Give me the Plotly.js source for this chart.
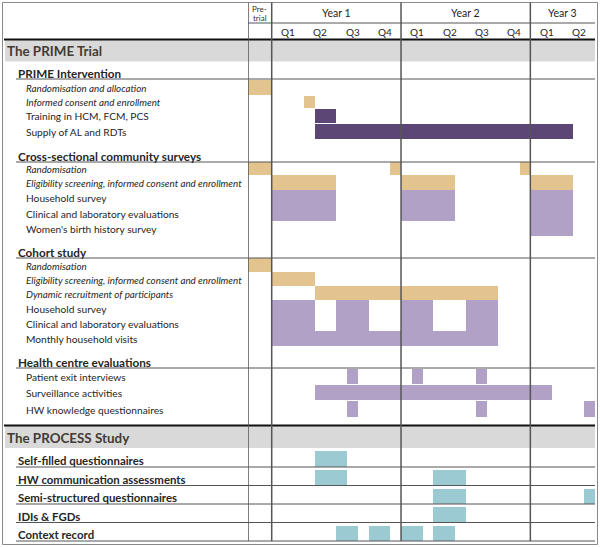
<!DOCTYPE html>
<html><head><meta charset="utf-8">
<script src="https://cdn.plot.ly/plotly-3.0.1.min.js"></script>
<style>html,body{margin:0;padding:0;background:#fff}#chart{width:600px;height:547px}</style>
</head><body><div id="chart"></div>
<script>
// ---------- DATA ----------
// time axis in months from the start of Year 1; the pre-trial period precedes month 0
const PRE = -2.2;
const yearLabels = ['Year 1', 'Year 2', 'Year 3'];
const yearStarts = [0, 12, 24];
const yearEnds   = [12, 24, 30];
const quarterLabels = ['Q1','Q2','Q3','Q4','Q1','Q2','Q3','Q4','Q1','Q2'];
const quarterStarts = [0, 3, 6, 9, 12, 15, 18, 21, 24, 27];
const preTrialLabel = ['Pre-', 'trial'];

// rows of the table (index used by tasks)
const rowLabels = [
  'The PRIME Trial',                                          // 0
  'PRIME Intervention',                                       // 1
  'Randomisation and allocation',                             // 2
  'Informed consent and enrollment',                          // 3
  'Training in HCM, FCM, PCS',                                // 4
  'Supply of AL and RDTs',                                    // 5
  'Cross-sectional community surveys',                        // 6
  'Randomisation',                                            // 7
  'Eligibility screening, informed consent and enrollment',   // 8
  'Household survey',                                         // 9
  'Clinical and laboratory evaluations',                      // 10
  "Women's birth history survey",                             // 11
  'Cohort study',                                             // 12
  'Randomisation',                                            // 13
  'Eligibility screening, informed consent and enrollment',   // 14
  'Dynamic recruitment of participants',                      // 15
  'Household survey',                                         // 16
  'Clinical and laboratory evaluations',                      // 17
  'Monthly household visits',                                 // 18
  'Health centre evaluations',                                // 19
  'Patient exit interviews',                                  // 20
  'Surveillance activities',                                  // 21
  'HW knowledge questionnaires',                              // 22
  '',                                                         // 23
  'The PROCESS Study',                                        // 24
  'Self-filled questionnaires',                               // 25
  'HW communication assessments',                             // 26
  'Semi-structured questionnaires',                           // 27
  'IDIs & FGDs',                                              // 28
  'Context record'                                            // 29
];
const rowKinds = [
  'study','section','italicP','italicP','itemP','itemP',
  'section','italic','italic','item','item','item',
  'section','italic','italic','italic','item','item','item',
  'section','hc','hc','hc','spacer',
  'study','process','process','process','process','process'
];

// activities: row index, start month, end month, type
const taskRow   = [2, 3, 4, 5,
                   7, 7, 7, 8, 8, 8, 9, 9, 9, 10, 10, 10, 11,
                   13, 14, 15, 16, 16, 16, 16, 17, 17, 17, 17, 18,
                   20, 20, 20, 21, 22, 22, 22,
                   25, 26, 26, 27, 27, 28, 29, 29, 29, 29];
const taskStart = [PRE, 3, 4, 4,
                   PRE, 11, 23, 0, 12, 24, 0, 12, 24, 0, 12, 24, 24,
                   PRE, 0, 4, 0, 6, 12, 18, 0, 6, 12, 18, 0,
                   7, 13, 19, 4, 7, 19, 29,
                   4, 4, 15, 15, 29, 15, 6, 9, 12, 15];
const taskEnd   = [0, 4, 6, 28,
                   0, 12, 24, 6, 17, 28, 6, 17, 28, 6, 17, 28, 28,
                   0, 4, 21, 4, 9, 15, 21, 4, 9, 15, 21, 21,
                   8, 14, 20, 26, 8, 20, 30,
                   7, 7, 18, 18, 30, 18, 8, 11, 14, 17];
const taskType  = ['enrol', 'enrol', 'intervention', 'intervention',
                   'enrol','enrol','enrol','enrol','enrol','enrol','data','data','data','data','data','data','data',
                   'enrol','enrol','enrol','data','data','data','data','data','data','data','data','data',
                   'data','data','data','data','data','data','data',
                   'process','process','process','process','process','process','process','process','process','process'];

// ---------- LAYOUT / STYLE ----------
const rowHeights = [21.5, 17.5, 16, 13, 15, 16, 23, 13, 14.5, 15.5, 16, 15, 22, 14, 14, 14, 15.5, 15.5, 15,
                    22, 16.5, 16, 16.5, 9, 22, 19, 18.5, 18.5, 18.5, 18.5];
const topY = 40;
const rowY0 = [], rowY1 = [];
let acc = topY;
rowHeights.forEach(h => { rowY0.push(acc); acc += h; rowY1.push(acc); });

const typeColors = {enrol: '#e3c48f', intervention: '#5c4676', data: '#b1a1c6', process: '#9ccad2'};
const FONT = 'Lato, "Open Sans", sans-serif';
const TXT = '#262626';
const X0 = 248, X1 = 595, W = 600, H = 547;
const px = v => v / W;

function barBox(r) {
  const k = rowKinds[r];
  if (k === 'process') return [rowY0[r] + 3, rowY1[r] - 0.5];
  if (k === 'hc') return [rowY0[r] + 0.6, rowY1[r] - 0.4];
  if (k === 'itemP' || k === 'italicP') return [rowY0[r] + 0.6, rowY1[r] - 0.4];
  return [rowY0[r], rowY1[r]];
}

const traces = Object.keys(typeColors).map(t => {
  const ys = [], xs = [], bs = [], ws = [];
  taskRow.forEach((r, i) => {
    if (taskType[i] !== t) return;
    const [a, b] = barBox(r);
    ys.push((a + b) / 2); ws.push(b - a);
    bs.push(taskStart[i]); xs.push(taskEnd[i] - taskStart[i]);
  });
  return {type: 'bar', orientation: 'h', y: ys, x: xs, base: bs, width: ws,
          marker: {color: typeColors[t], line: {width: 0}}, hoverinfo: 'skip', showlegend: false};
});

const shapes = [];
const annotations = [];
const line = (x0, y0, x1, y1, color, width, xref) => shapes.push({type: 'line', xref: xref || 'paper', yref: 'y',
  x0: x0, x1: x1, y0: y0, y1: y1, line: {color: color, width: width}, layer: 'above'});

// outer frame
shapes.push({type: 'rect', xref: 'paper', yref: 'paper', x0: px(2.5), x1: px(597.5), y0: 1 - 544.5 / H, y1: 1 - 2.5 / H,
             line: {color: '#8a8a8a', width: 1}, fillcolor: 'rgba(0,0,0,0)', layer: 'above'});

// rows: bands, lines, labels
rowLabels.forEach((lab, r) => {
  const k = rowKinds[r];
  if (k === 'study') {
    shapes.push({type: 'rect', xref: 'paper', yref: 'y', x0: px(5), x1: px(X1), y0: rowY0[r], y1: rowY1[r],
                 fillcolor: '#d9d9d9', line: {width: 0}, layer: 'below'});
    line(px(4), rowY0[r] - 0.5, px(X1), rowY0[r] - 0.5, '#111', 2);
    annotations.push({xref: 'paper', yref: 'y', x: px(5), y: (rowY0[r] + rowY1[r]) / 2 + 0.5, xanchor: 'left', yanchor: 'middle',
      text: '<b>' + lab + '</b>', showarrow: false, font: {family: FONT, size: 13.4, color: '#453b33'}});
  } else if (k === 'section') {
    line(px(16), rowY1[r], px(X1), rowY1[r], '#555', 1);
    annotations.push({xref: 'paper', yref: 'y', x: px(16), y: rowY1[r] - 6.5, xanchor: 'left', yanchor: 'middle',
      text: '<b>' + lab + '</b>', showarrow: false, font: {family: FONT, size: 11.7, color: TXT}});
  } else if (k === 'process') {
    line(px(16), rowY1[r], px(X1), rowY1[r], '#555', 1);
    annotations.push({xref: 'paper', yref: 'y', x: px(16), y: rowY1[r] - 6.5, xanchor: 'left', yanchor: 'middle',
      text: '<b>' + lab + '</b>', showarrow: false, font: {family: FONT, size: 11.4, color: TXT}});
  } else if (k !== 'spacer') {
    const it = k.indexOf('italic') === 0;
    const t = it ? '<i>' + lab + '</i>' : lab;
    annotations.push({xref: 'paper', yref: 'y', x: px(24), y: (rowY0[r] + rowY1[r]) / 2 + 0.8, xanchor: 'left', yanchor: 'middle',
      text: t, showarrow: false, font: {family: FONT, size: it ? 9.8 : 10.2, color: TXT}});
  }
});

// column structure
const bottomY = rowY1[rowY1.length - 1];
[PRE, 0, 12, 24].forEach(x => line(x, 2.5, x, bottomY, '#555', 1.5, 'x'));
line(px(X0), 23, px(X1), 23, '#555', 1);

// header labels
yearLabels.forEach((y, i) => annotations.push({xref: 'x', yref: 'y', x: (yearStarts[i] + yearEnds[i]) / 2, y: 13,
  text: y, showarrow: false, font: {family: FONT, size: 10.5, color: '#1e1e1e'}}));
quarterLabels.forEach((q, i) => annotations.push({xref: 'x', yref: 'y', x: quarterStarts[i] + 1.5, y: 31.5,
  text: q, showarrow: false, font: {family: FONT, size: 10, color: '#1e1e1e'}}));
preTrialLabel.forEach((p, i) => annotations.push({xref: 'x', yref: 'y', x: PRE / 2, y: 8.5 + i * 9.5,
  text: p, showarrow: false, font: {family: FONT, size: 8, color: '#333'}}));

const layout = {
  width: W, height: H, margin: {l: 0, r: 0, t: 0, b: 0},
  paper_bgcolor: '#fff', plot_bgcolor: 'rgba(0,0,0,0)',
  barmode: 'overlay', bargap: 0,
  xaxis: {domain: [X0 / W, X1 / W], range: [PRE, 30], showgrid: false, zeroline: false, showticklabels: false, ticks: '', fixedrange: true},
  yaxis: {domain: [0, 1], range: [H, 0], showgrid: false, zeroline: false, showticklabels: false, ticks: '', fixedrange: true},
  shapes: shapes, annotations: annotations, showlegend: false
};
Plotly.newPlot('chart', traces, layout, {staticPlot: true, displayModeBar: false});
</script></body></html>
